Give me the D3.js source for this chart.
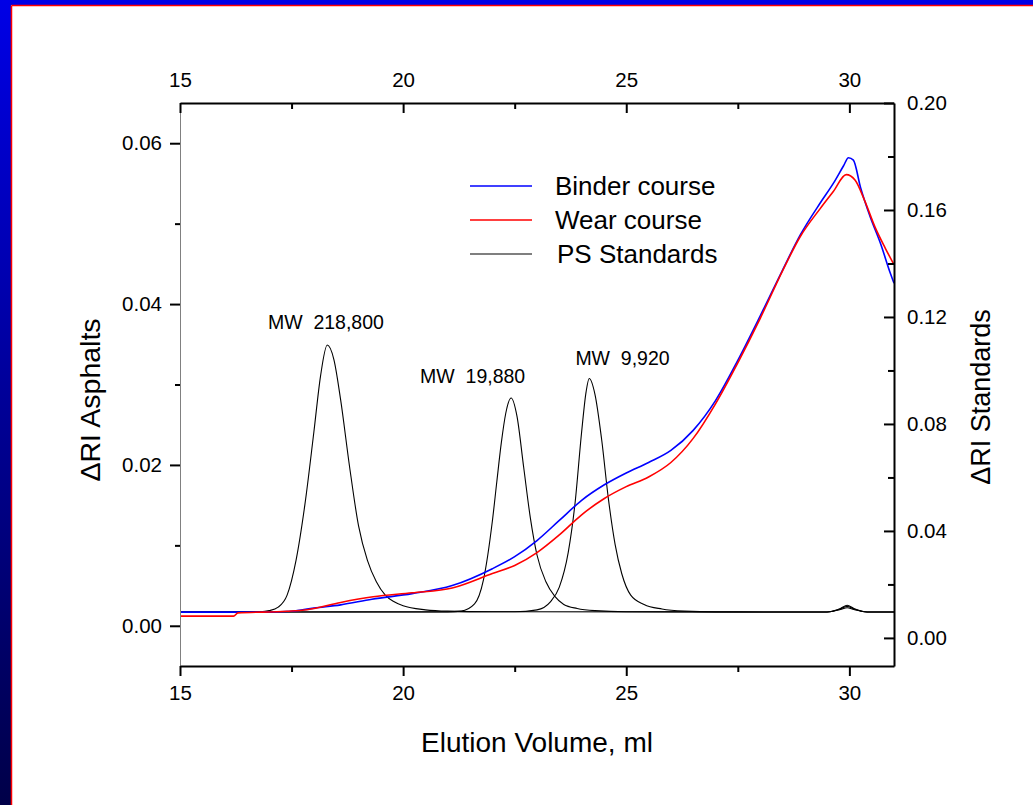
<!DOCTYPE html>
<html>
<head>
<meta charset="utf-8">
<title>Elution Volume</title>
<script src="https://d3js.org/d3.v7.min.js"></script>
<style>
  body { margin: 0; background: #fff; }
  svg text { font-family: "Liberation Sans", Arial, sans-serif; fill: #000; }
</style>
</head>
<body>
<div id="container"></div>
<script>
// elution volume (ml), ΔRI asphalts (left axis)
const binder = [
  [15.0, 0.0017], [16.0, 0.0017], [17.0, 0.0017], [17.5, 0.0018], [18.0, 0.0022],
  [18.6, 0.0026], [19.3, 0.0033], [20.2, 0.0040], [21.1, 0.0050], [22.0, 0.0071],
  [22.5, 0.0086], [23.0, 0.0106], [23.5, 0.0131], [24.0, 0.0156], [24.5, 0.0175],
  [25.0, 0.0190], [25.5, 0.0203], [26.0, 0.0218], [26.5, 0.0243], [27.0, 0.0280],
  [27.5, 0.0330], [28.0, 0.0385], [28.5, 0.0442], [28.9, 0.0486], [29.35, 0.0526],
  [29.64, 0.0550], [29.87, 0.0572], [29.98, 0.0582], [30.09, 0.0579], [30.25, 0.0545],
  [30.47, 0.0508], [30.7, 0.0475], [30.92, 0.0438], [31.0, 0.0426]
]
const wear = [
  [15.0, 0.0012], [16.2, 0.0012], [16.3, 0.0016], [17.4, 0.0018], [17.85, 0.0020],
  [18.6, 0.0029], [19.33, 0.0036], [20.2, 0.0041], [21.1, 0.0047], [22.0, 0.0065],
  [22.5, 0.0075], [23.0, 0.0091], [23.5, 0.0113], [24.0, 0.0138], [24.5, 0.0158],
  [25.0, 0.0173], [25.5, 0.0185], [26.0, 0.0203], [26.5, 0.0233], [27.0, 0.0276],
  [27.5, 0.0327], [28.0, 0.0382], [28.5, 0.0441], [28.9, 0.0484], [29.35, 0.0519],
  [29.64, 0.0540], [29.93, 0.0561], [30.13, 0.0554], [30.34, 0.0529], [30.58, 0.0495],
  [30.8, 0.0470], [31.0, 0.0449]
]
// PS standards, ΔRI standards (right axis)
const ps218800 = [
  [15.0, 0.0097], [16.0, 0.0097], [16.8, 0.0098], [17.0, 0.0102], [17.2, 0.0115],
  [17.4, 0.0160], [17.6, 0.0290], [17.8, 0.0500], [18.0, 0.0770], [18.15, 0.0980],
  [18.3, 0.1095], [18.45, 0.1040], [18.6, 0.0890], [18.8, 0.0640], [19.0, 0.0420],
  [19.2, 0.0290], [19.4, 0.0210], [19.6, 0.0160], [19.8, 0.0135], [20.0, 0.0120],
  [20.5, 0.0105], [21.0, 0.0100], [22.0, 0.0098], [29.5, 0.0097], [29.8, 0.0108],
  [29.95, 0.0118], [30.1, 0.0108], [30.4, 0.0097], [31.0, 0.0097]
]
const ps19880 = [
  [15.0, 0.0097], [21.0, 0.0097], [21.3, 0.0100], [21.6, 0.0127], [21.8, 0.0217],
  [22.0, 0.0437], [22.1, 0.0585], [22.2, 0.0729], [22.3, 0.0840], [22.42, 0.0897],
  [22.55, 0.0830], [22.7, 0.0640], [22.85, 0.0450], [23.0, 0.0310], [23.2, 0.0210],
  [23.4, 0.0155], [23.6, 0.0125], [23.9, 0.0110], [24.3, 0.0102], [25.0, 0.0098],
  [29.5, 0.0097], [29.8, 0.0110], [29.95, 0.0122], [30.1, 0.0110], [30.4, 0.0097],
  [31.0, 0.0097]
]
const ps9920 = [
  [15.0, 0.0097], [22.5, 0.0098], [23.0, 0.0105], [23.3, 0.0135], [23.5, 0.0190],
  [23.7, 0.0320], [23.85, 0.0500], [24.0, 0.0770], [24.1, 0.0920], [24.17, 0.0970],
  [24.3, 0.0910], [24.45, 0.0740], [24.6, 0.0520], [24.75, 0.0350], [24.9, 0.0240],
  [25.1, 0.0160], [25.4, 0.0125], [25.8, 0.0108], [26.3, 0.0100], [27.0, 0.0097],
  [29.5, 0.0097], [29.8, 0.0106], [29.95, 0.0113], [30.1, 0.0106], [30.4, 0.0097],
  [31.0, 0.0097]
]

const xTicks = [15, 20, 25, 30]
const xMinor = [17.5, 22.5, 27.5]
const leftTicks = [0, 0.02, 0.04, 0.06]
const leftMinor = [0.01, 0.03, 0.05]
const rightTicks = [0, 0.04, 0.08, 0.12, 0.16, 0.20]
const rightMinor = [0.02, 0.06, 0.10, 0.14, 0.18]

const legendLabels = ["Binder course", "Wear course", "PS Standards"]
const legendColors = ["#0000ff", "#ff0000", "#555555"]

// peak labels: [elution volume, right-axis value, text]
const peakLabels = [
  [16.97, 0.1155, "MW\u00a0 218,800"],
  [20.38, 0.0953, "MW\u00a0 19,880"],
  [23.86, 0.1020, "MW\u00a0 9,920"]
]

const w = 1033
const h = 805
const plotLeft = 180, plotRight = 894, plotTop = 103, plotBottom = 666

const svg = d3.select("#container")
  .append("svg")
  .attr("width", w)
  .attr("height", h)

// frame
const defs = svg.append("defs")
const grad = defs.append("linearGradient")
  .attr("id", "sidebar")
  .attr("x1", 0).attr("y1", 0).attr("x2", 0).attr("y2", 1)
grad.append("stop").attr("offset", "0%").attr("stop-color", "#0000e6")
grad.append("stop").attr("offset", "100%").attr("stop-color", "#000048")

svg.append("rect").attr("x", 0).attr("y", 0).attr("width", w).attr("height", 5).attr("fill", "#0000e6")
svg.append("rect").attr("x", 0).attr("y", 0).attr("width", 11).attr("height", h).attr("fill", "url(#sidebar)")
svg.append("line").attr("x1", 11.5).attr("x2", w).attr("y1", 5.5).attr("y2", 5.5)
  .attr("stroke", "#ff0000").attr("stroke-width", 1.5)
svg.append("line").attr("x1", 11.5).attr("x2", 11.5).attr("y1", 5.5).attr("y2", h)
  .attr("stroke", "#ff0000").attr("stroke-width", 1.5)

// scales
const x = d3.scaleLinear().domain([15, 31]).range([plotLeft, plotRight])
const yL = d3.scaleLinear().domain([-0.005, 0.065]).range([plotBottom, plotTop])
const yR = d3.scaleLinear().domain([-0.0105, 0.20]).range([plotBottom, plotTop])

defs.append("clipPath").attr("id", "plot")
  .append("rect")
  .attr("x", plotLeft).attr("y", plotTop)
  .attr("width", plotRight - plotLeft).attr("height", plotBottom - plotTop)

const plot = svg.append("g").attr("clip-path", "url(#plot)")

const lineR = d3.line().x(d => x(d[0])).y(d => yR(d[1])).curve(d3.curveMonotoneX)
const lineL = d3.line().x(d => x(d[0])).y(d => yL(d[1])).curve(d3.curveMonotoneX)

;[ps218800, ps19880, ps9920].forEach(s => {
  plot.append("path")
    .datum(s)
    .attr("d", lineR)
    .attr("fill", "none")
    .attr("stroke", "#000")
    .attr("stroke-width", 1.1)
})

plot.append("path").datum(binder).attr("d", lineL)
  .attr("fill", "none").attr("stroke", "#0000ff").attr("stroke-width", 1.6)
plot.append("path").datum(wear).attr("d", lineL)
  .attr("fill", "none").attr("stroke", "#ff0000").attr("stroke-width", 1.6)

// axes
const styleAxis = (g, domainColor, domainWidth) => {
  g.select(".domain").attr("stroke", domainColor).attr("stroke-width", domainWidth)
  g.selectAll(".tick line").attr("stroke", "#000").attr("stroke-width", 2)
  g.selectAll("text").attr("font-size", 20.5).attr("font-family", "Liberation Sans, Arial, sans-serif")
}
const minorStyle = g => {
  g.select(".domain").remove()
  g.selectAll(".tick line").attr("stroke-width", 2)
}

// left
const gLeft = svg.append("g").attr("transform", `translate(${plotLeft},0)`)
  .call(d3.axisLeft(yL).tickValues(leftTicks).tickSize(10).tickSizeOuter(0)
    .tickPadding(8).tickFormat(d3.format(".2f")))
styleAxis(gLeft, "#808080", 1)
svg.append("g").attr("transform", `translate(${plotLeft},0)`)
  .call(d3.axisLeft(yL).tickValues(leftMinor).tickSize(5).tickFormat(""))
  .call(minorStyle)

// bottom
const gBottom = svg.append("g").attr("transform", `translate(0,${plotBottom})`)
  .call(d3.axisBottom(x).tickValues(xTicks).tickSize(10).tickSizeOuter(0).tickPadding(9))
styleAxis(gBottom, "#000", 2)
svg.append("g").attr("transform", `translate(0,${plotBottom})`)
  .call(d3.axisBottom(x).tickValues(xMinor).tickSize(6).tickFormat(""))
  .call(minorStyle)

// top
const gTop = svg.append("g").attr("transform", `translate(0,${plotTop})`)
  .call(d3.axisTop(x).tickValues(xTicks).tickSize(-10).tickSizeOuter(0).tickPadding(16))
styleAxis(gTop, "#000", 2)
svg.append("g").attr("transform", `translate(0,${plotTop})`)
  .call(d3.axisTop(x).tickValues(xMinor).tickSize(-6).tickFormat(""))
  .call(minorStyle)

// right
const gRight = svg.append("g").attr("transform", `translate(${plotRight},0)`)
  .call(d3.axisRight(yR).tickValues(rightTicks).tickSize(-10).tickSizeOuter(0)
    .tickPadding(13).tickFormat(d3.format(".2f")))
styleAxis(gRight, "#000", 2)
svg.append("g").attr("transform", `translate(${plotRight},0)`)
  .call(d3.axisRight(yR).tickValues(rightMinor).tickSize(-6).tickFormat(""))
  .call(minorStyle)

// axis titles
svg.append("text")
  .attr("x", 537)
  .attr("y", 752)
  .attr("text-anchor", "middle")
  .attr("font-size", 28)
  .text("Elution Volume, ml")

svg.append("text")
  .attr("transform", "translate(100,400) rotate(-90)")
  .attr("text-anchor", "middle")
  .attr("font-size", 28.5)
  .text("ΔRI Asphalts")

svg.append("text")
  .attr("transform", "translate(990,397) rotate(-90)")
  .attr("text-anchor", "middle")
  .attr("font-size", 27)
  .text("ΔRI Standards")

// peak labels
svg.selectAll(".peak")
  .data(peakLabels)
  .enter()
  .append("text")
  .attr("class", "peak")
  .attr("x", d => x(d[0]))
  .attr("y", d => yR(d[1]))
  .attr("font-size", 19.5)
  .text(d => d[2])

// legend
const legend = svg.append("g")
legendLabels.forEach((label, i) => {
  const ly = 186 + i * 34
  legend.append("line")
    .attr("x1", 470).attr("x2", 532)
    .attr("y1", ly).attr("y2", ly)
    .attr("stroke", legendColors[i])
    .attr("stroke-width", 1.6)
  legend.append("text")
    .attr("x", i === 2 ? 557 : 555)
    .attr("y", ly + 9)
    .attr("font-size", 26)
    .text(label)
})
</script>
</body>
</html>
